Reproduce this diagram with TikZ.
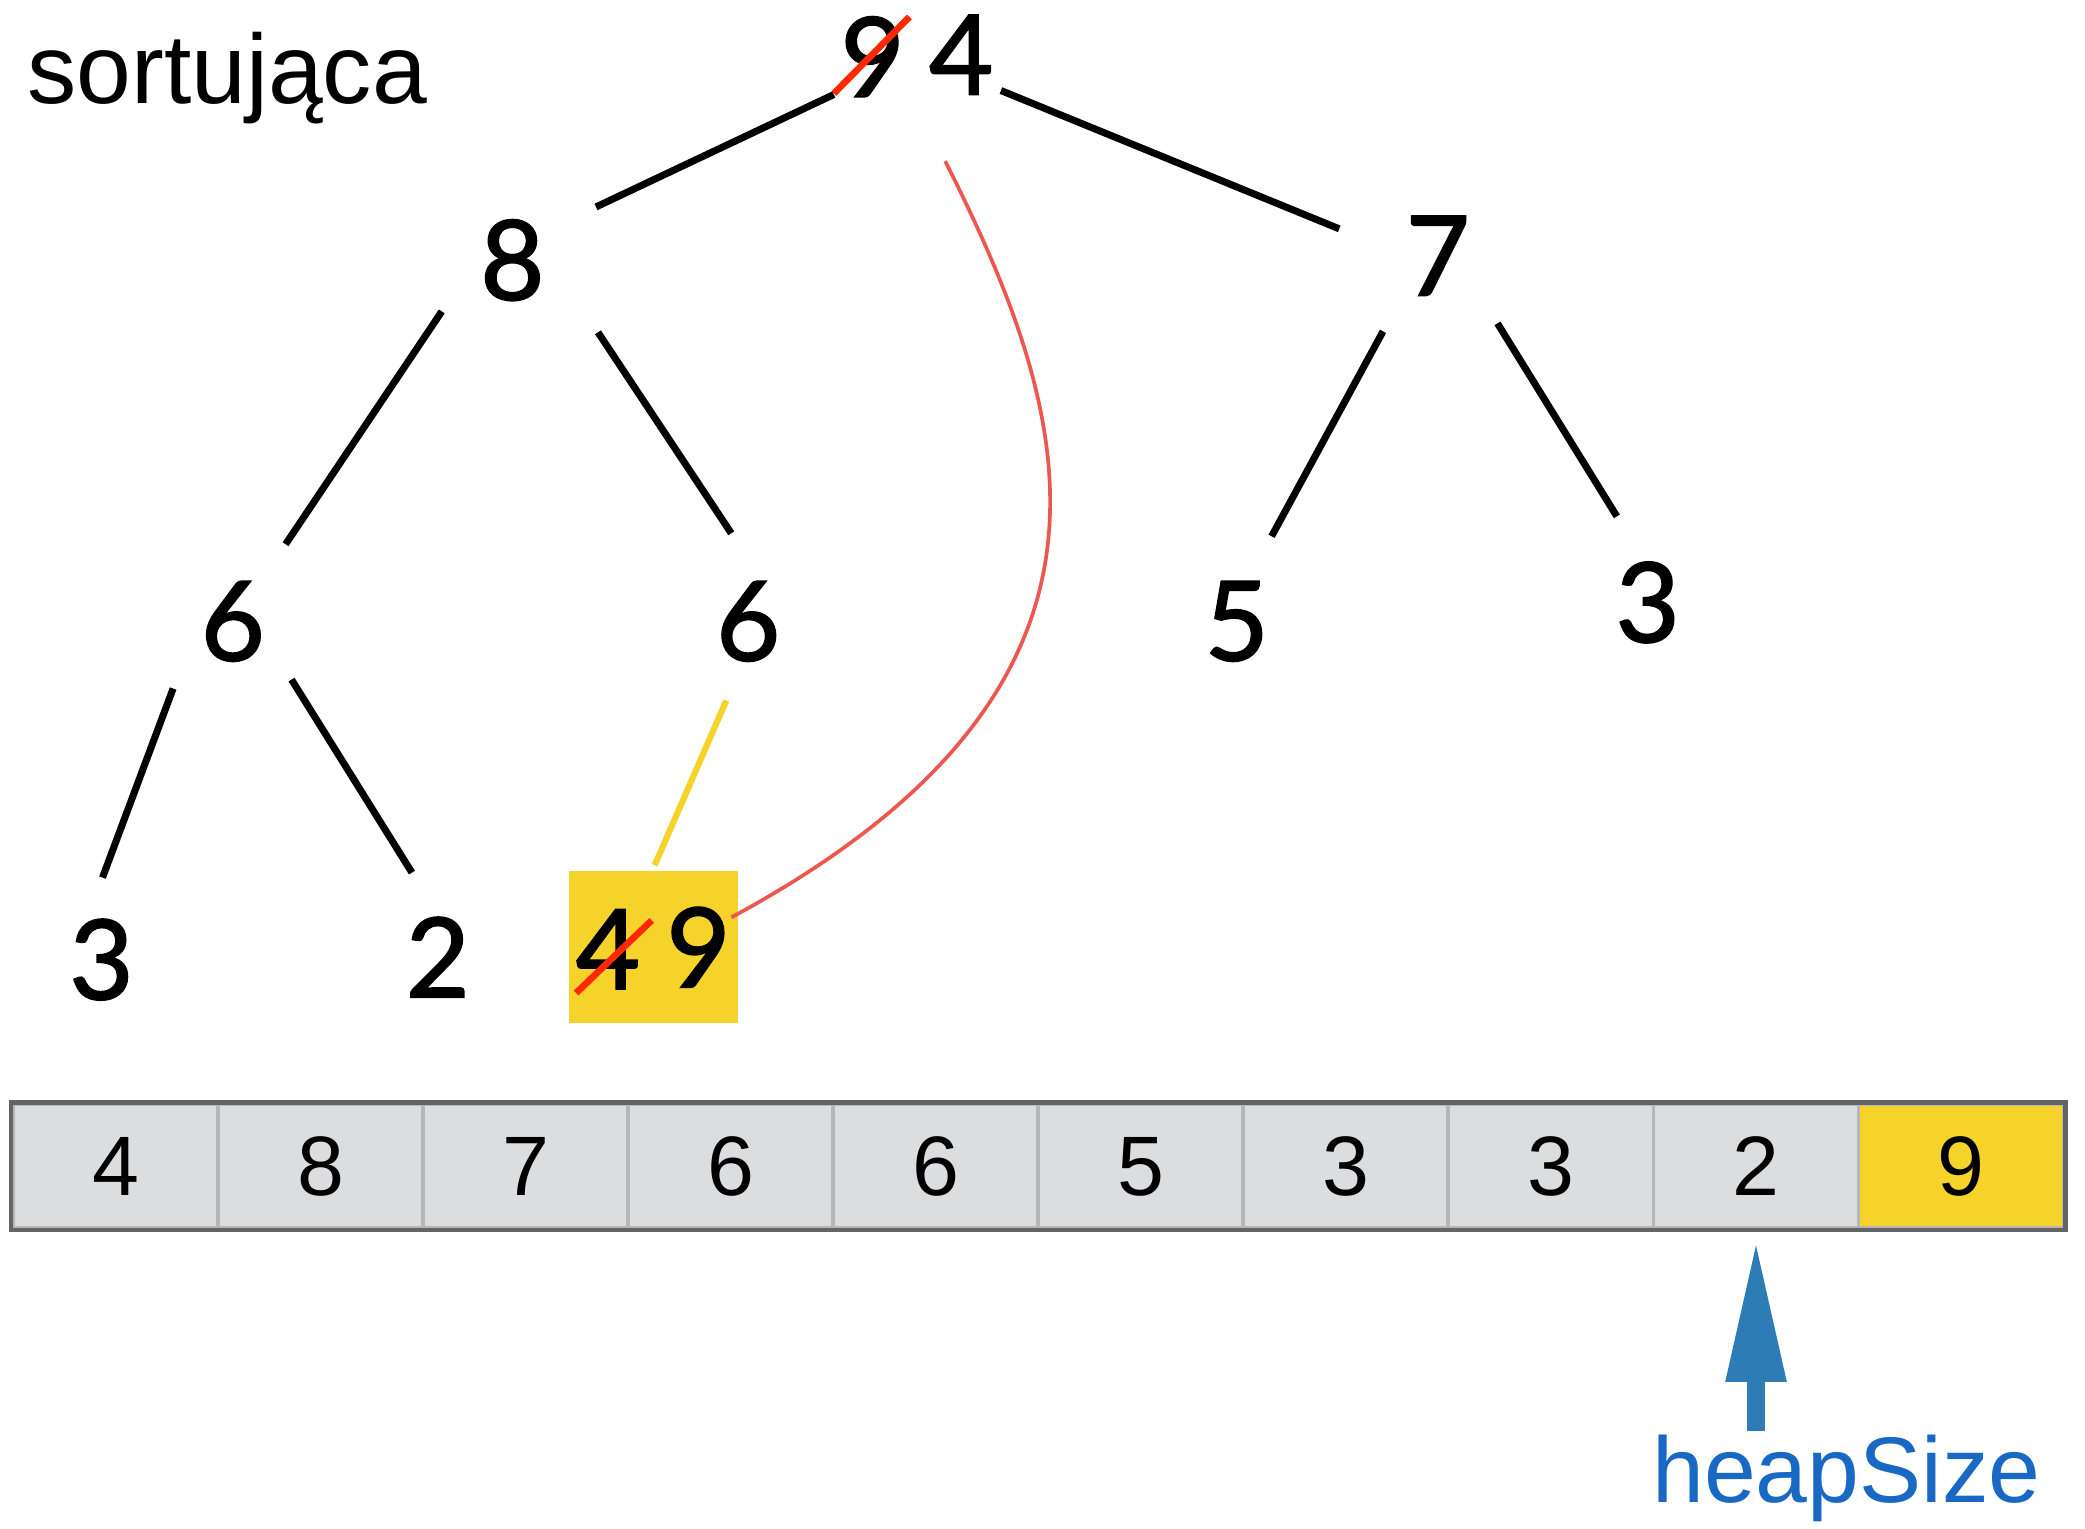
\documentclass[tikz,border=0pt]{standalone}
\usepackage{fontspec}
\setmainfont{Liberation Sans}
\newfontfamily\treefont{Lato}[FakeBold=1.6]
\usetikzlibrary{calc,arrows.meta}
\definecolor{hyellow}{RGB}{245,211,42}
\definecolor{cellgray}{RGB}{220,221,223}
\definecolor{bordergray}{RGB}{100,100,100}
\definecolor{divgray}{RGB}{182,182,182}
\definecolor{curvered}{RGB}{236,88,80}
\definecolor{strikered}{RGB}{255,40,0}
\definecolor{arrowblue}{RGB}{46,124,181}
\definecolor{textblue}{RGB}{24,104,196}
\begin{document}
\begin{tikzpicture}[x=0.00995cm,y=-0.00995cm,
  tnum/.style={font=\treefont\fontsize{31.5}{36}\selectfont, inner sep=0pt, text depth=0pt},
  edge/.style={line width=2pt, draw=black},
  yedge/.style={line width=1.75pt, draw=hyellow},
  redcurve/.style={line width=1.05pt, draw=curvered},
  strike/.style={draw=strikered, line width=1.9pt},
  cell/.style={draw=divgray, line width=1.1pt, fill=cellgray, minimum width=2.051cm, minimum height=1.235cm, inner sep=0pt, text depth=0pt, font=\fontsize{24}{28}\selectfont},
  heaparrow/.style={draw=arrowblue, line width=0.18cm, -{Triangle[length=1.42cm, width=0.56cm]}},
]
\useasboundingbox (0,0) rectangle (2095.5,1536.7);

% title
\node[anchor=base west, inner sep=0pt, font=\fontsize{28}{32}\selectfont] (title) at (27,104) {sortująca};

% yellow box behind swapped values
\node[fill=hyellow, minimum width=1.69cm, minimum height=1.52cm, inner sep=0pt] (box) at (657,951.5) {};

% tree nodes
\node[tnum] (r9) at (877,57) {9};
\node[tnum] (r4) at (966,55) {4};
\node[tnum] (n8) at (515,261) {8};
\node[tnum] (n7) at (1445,257) {7};
\node[tnum] (n6L) at (234,624) {6};
\node[tnum] (n6R) at (752,624) {6};
\node[tnum] (n5) at (1243,624) {5};
\node[tnum] (n3R) at (1656,605) {3};
\node[tnum] (n3L) at (102,964) {3};
\node[tnum] (n2) at (440,962) {2};
\node[tnum] (b4) at (611,954) {4};
\node[tnum] (b9) at (702,952) {9};

% edges
\draw[edge] ($(r9)+(-39,38)$) -- ($(n8)+(84,-53)$);
\draw[edge] ($(r4)+(40,36)$) -- ($(n7)+(-99,-27)$);
\draw[edge] ($(n8)+(-71,52)$) -- ($(n6L)+(53,-77)$);
\draw[edge] ($(n8)+(86,73)$) -- ($(n6R)+(-17,-88)$);
\draw[edge] ($(n7)+(-55,76)$) -- ($(n5)+(35,-85)$);
\draw[edge] ($(n7)+(60,68)$) -- ($(n3R)+(-31,-86)$);
\draw[edge] ($(n6L)+(-60,68)$) -- ($(n3L)+(1,-82)$);
\draw[edge] ($(n6L)+(59,59)$) -- ($(n2)+(-26,-85)$);
\draw[yedge] ($(n6R)+(-22,80)$) -- ($(box)+(1,-82)$);

% swap curve
\draw[redcurve] ($(r4)+(-16,107)$) .. controls (1080,420) and (1165,690) .. ($(b9)+(33,-30)$);

% strikes
\draw[strike] ($(r9)+(-39,37)$) -- ($(r9)+(37,-40)$);
\draw[strike] ($(b4)+(-32,44)$) -- ($(b4)+(44,-29)$);

% array
\foreach \v [count=\i from 0] in {4,8,7,6,6,5,3,3,2}
  \node[cell] (c\i) at ({13+206.1*(\i+0.5)},1172) {\v};
\node[cell, fill=hyellow] (c9) at ({13+206.1*9.5},1172) {9};
\draw[draw=bordergray, line width=1.3pt] (c0.north west) rectangle (c9.south east);

% heapSize pointer
\draw[heaparrow] ($(c8.south)+(0,202)$) -- ($(c8.south)+(0,10)$);
\node[anchor=base west, inner sep=0pt, text=textblue, font=\fontsize{26.5}{30}\selectfont] (hs) at (1660,1510) {heapSize};
\end{tikzpicture}
\end{document}
